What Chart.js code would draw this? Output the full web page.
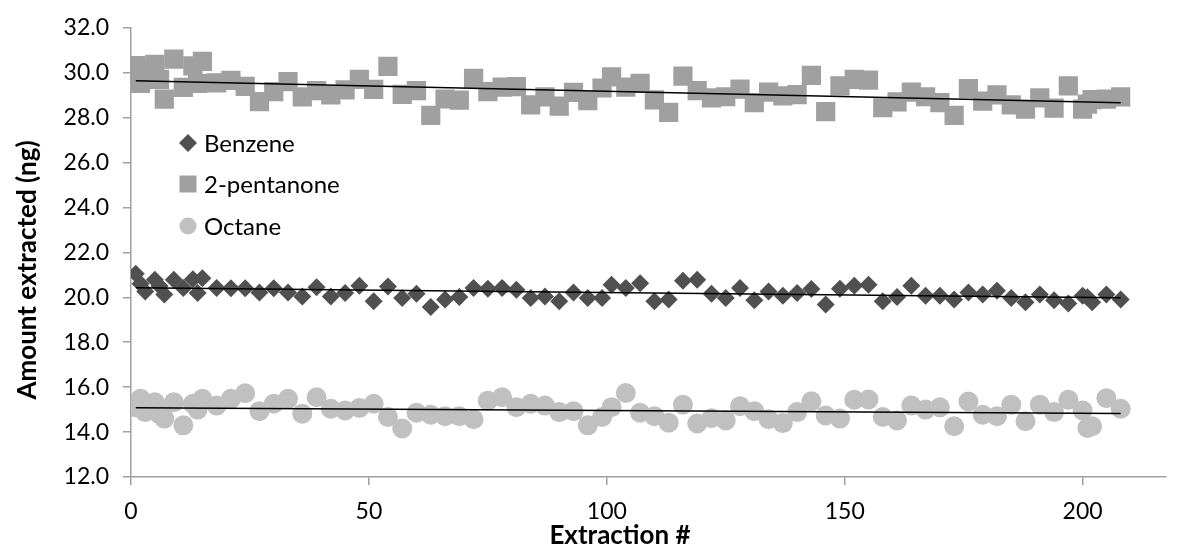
<!DOCTYPE html>
<html lang="en">
<head>
  <meta charset="UTF-8" />
  <title>Amount extracted per extraction</title>
  <style>
    html, body { margin: 0; padding: 0; background: #fff; }
  </style>
  <script src="https://cdn.jsdelivr.net/npm/chart.js"></script>
</head>
<body>

<canvas id="extractionChart" width="1179" height="546"></canvas>

<script>
  // Extraction numbers shared by the three compounds
  const extractionNo = [1, 2, 3, 5, 6, 7, 9, 11, 13, 14, 15,
    18, 21, 24, 27, 30, 33, 36, 39, 42, 45, 48, 51, 54, 57, 60, 63, 66, 69, 72, 75, 78, 81, 84, 87, 90, 93, 96, 99,
    101, 104, 107, 110, 113, 116, 119, 122, 125, 128, 131, 134, 137, 140, 143, 146, 149, 152, 155, 158, 161, 164, 167, 170,
    173, 176, 179, 182, 185, 188, 191, 194, 197, 200,
    201, 202, 205, 208];

  // Amount extracted (ng)
  const benzene = [21.05, 20.6, 20.26, 20.78, 20.5, 20.12, 20.78, 20.41, 20.8, 20.19, 20.85,
    20.41, 20.4, 20.4, 20.22, 20.4, 20.22, 20.04, 20.45, 20.04, 20.19, 20.52, 19.82, 20.48, 19.97, 20.16, 19.57, 19.9, 20.01, 20.41, 20.38, 20.41, 20.34, 19.97, 20.04, 19.82, 20.22, 19.97, 19.97,
    20.56, 20.41, 20.63, 19.82, 19.9, 20.74, 20.78, 20.16, 19.97, 20.41, 19.87, 20.26, 20.07, 20.19, 20.37, 19.68, 20.38, 20.52, 20.56, 19.82, 20.01, 20.52, 20.07, 20.07,
    19.9, 20.22, 20.12, 20.29, 19.97, 19.78, 20.12, 19.87, 19.72, 20.07,
    20.0, 19.78, 20.12, 19.9];

  const pentanone = [30.32, 29.53, 30.1, 30.37, 29.7, 28.82, 30.61, 29.35, 30.3, 29.53, 30.51,
    29.55, 29.66, 29.39, 28.71, 29.16, 29.6, 28.92, 29.2, 29.01, 29.24, 29.7, 29.26, 30.28, 29.04, 29.2, 28.1, 28.83, 28.78, 29.75, 29.16, 29.36, 29.38, 28.57, 28.92, 28.51, 29.13, 28.76, 29.32,
    29.82, 29.36, 29.53, 28.79, 28.23, 29.85, 29.2, 28.88, 28.93, 29.27, 28.67, 29.14, 28.97, 29.02, 29.88, 28.27, 29.41, 29.7, 29.67, 28.44, 28.7, 29.14, 28.93, 28.67,
    28.1, 29.29, 28.74, 29.01, 28.57, 28.38, 28.88, 28.42, 29.41, 28.38,
    28.6, 28.8, 28.82, 28.92];

  const octane = [15.11, 15.48, 14.89, 15.33, 14.8, 14.6, 15.33, 14.3, 15.26, 15.0, 15.48,
    15.18, 15.48, 15.73, 14.93, 15.26, 15.48, 14.82, 15.55, 15.04, 14.96, 15.07, 15.26, 14.67, 14.16, 14.86, 14.77, 14.71, 14.71, 14.57, 15.4, 15.55, 15.11, 15.26, 15.18, 14.89, 14.93, 14.3, 14.67,
    15.11, 15.74, 14.86, 14.71, 14.42, 15.22, 14.38, 14.62, 14.52, 15.15, 14.93, 14.57, 14.4, 14.89, 15.37, 14.74, 14.6, 15.44, 15.45, 14.67, 14.52, 15.18, 15.0, 15.1,
    14.26, 15.36, 14.77, 14.71, 15.22, 14.48, 15.22, 14.89, 15.44, 14.96,
    14.18, 14.26, 15.51, 15.04];

  const seriesNames = ['Benzene', '2-pentanone', 'Octane'];
  const xTickValues = [0, 50, 100, 150, 200];
  const yTickValues = [12, 14, 16, 18, 20, 22, 24, 26, 28, 30, 32];

  const FONT = 'Lato, "Open Sans", sans-serif';

  function points(ys) {
    return extractionNo.map((x, i) => ({ x: x, y: ys[i] }));
  }

  // least squares line over the full range of extractions
  function trendLine(ys) {
    const n = extractionNo.length;
    const mx = extractionNo.reduce((a, b) => a + b, 0) / n;
    const my = ys.reduce((a, b) => a + b, 0) / n;
    let sxy = 0, sxx = 0;
    for (let i = 0; i < n; i++) {
      sxy += (extractionNo[i] - mx) * (ys[i] - my);
      sxx += (extractionNo[i] - mx) ** 2;
    }
    const slope = sxy / sxx;
    const b = my - slope * mx;
    const x0 = Math.min(...extractionNo), x1 = Math.max(...extractionNo);
    return [{ x: x0, y: b + slope * x0 }, { x: x1, y: b + slope * x1 }];
  }

  function trendDataset(ys) {
    return {
      type: 'line',
      data: trendLine(ys),
      borderColor: '#000',
      borderWidth: 1.5,
      pointRadius: 0,
      fill: false,
      order: 0,
      isTrend: true
    };
  }

  // axis titles + legend drawn inside the plot
  const extrasPlugin = {
    id: 'extras',
    afterDraw(chart) {
      const ctx = chart.ctx;
      ctx.save();
      ctx.fillStyle = '#000';
      ctx.font = 'bold 26px ' + FONT;
      ctx.textAlign = 'center';
      ctx.textBaseline = 'alphabetic';
      ctx.fillText('Extraction #', 620, 544);

      ctx.save();
      ctx.translate(28, 270);
      ctx.rotate(-Math.PI / 2);
      ctx.textBaseline = 'middle';
      ctx.fillText('Amount extracted (ng)', 0, 0);
      ctx.restore();

      const rowY = [143, 184, 226];
      ctx.font = '24px ' + FONT;
      ctx.textAlign = 'left';
      ctx.textBaseline = 'middle';
      chart.data.datasets.filter(d => !d.isTrend).forEach((d, i) => {
        ctx.fillStyle = d.backgroundColor;
        Chart.helpers.drawPoint(ctx, {
          pointStyle: d.pointStyle,
          radius: d.legendRadius,
          rotation: 0,
          borderWidth: 0
        }, 188, rowY[i]);
        ctx.fillStyle = '#000';
        ctx.fillText(d.label, 204, rowY[i] + 1);
      });
      ctx.restore();
    }
  };

  const ctxChart = document.getElementById('extractionChart').getContext('2d');
  const chart = new Chart(ctxChart, {
    type: 'scatter',
    data: {
      datasets: [
        {
          label: seriesNames[0],
          data: points(benzene),
          pointStyle: 'rectRot',
          pointRadius: 9,
          legendRadius: 9,
          backgroundColor: '#505050',
          borderWidth: 0,
          order: 1
        },
        {
          label: seriesNames[1],
          data: points(pentanone),
          pointStyle: 'rect',
          pointRadius: 13.6,
          legendRadius: 12,
          backgroundColor: '#a0a0a0',
          borderWidth: 0,
          order: 1
        },
        {
          label: seriesNames[2],
          data: points(octane),
          pointStyle: 'circle',
          pointRadius: 10,
          legendRadius: 8.5,
          backgroundColor: '#c0c0c0',
          borderWidth: 0,
          order: 1
        },
        trendDataset(benzene),
        trendDataset(pentanone),
        trendDataset(octane)
      ]
    },
    options: {
      responsive: false,
      animation: false,
      layout: { padding: { top: 24, right: 0, bottom: 0, left: 0 } },
      plugins: {
        legend: { display: false },
        tooltip: { enabled: false }
      },
      elements: { point: { hoverRadius: 0 } },
      scales: {
        x: {
          type: 'linear',
          min: 0,
          max: 217.4,
          afterBuildTicks: s => { s.ticks = xTickValues.map(v => ({ value: v })); },
          afterFit: s => { s.height = 69; },
          border: { color: '#a0a0a0', width: 1.5 },
          grid: { drawOnChartArea: false, tickLength: 8, color: '#a0a0a0', lineWidth: 1.5 },
          ticks: { color: '#000', padding: 13, font: { family: FONT, size: 23 } }
        },
        y: {
          min: 12,
          max: 32,
          afterBuildTicks: s => { s.ticks = yTickValues.map(v => ({ value: v })); },
          afterFit: s => { s.width = 131; },
          border: { color: '#a0a0a0', width: 1.5 },
          grid: { drawOnChartArea: false, tickLength: 8, color: '#a0a0a0', lineWidth: 1.5 },
          ticks: {
            color: '#000',
            padding: 14,
            font: { family: FONT, size: 23 },
            callback: v => v.toFixed(1)
          }
        }
      }
    },
    plugins: [extrasPlugin]
  });
</script>

</body>
</html>
